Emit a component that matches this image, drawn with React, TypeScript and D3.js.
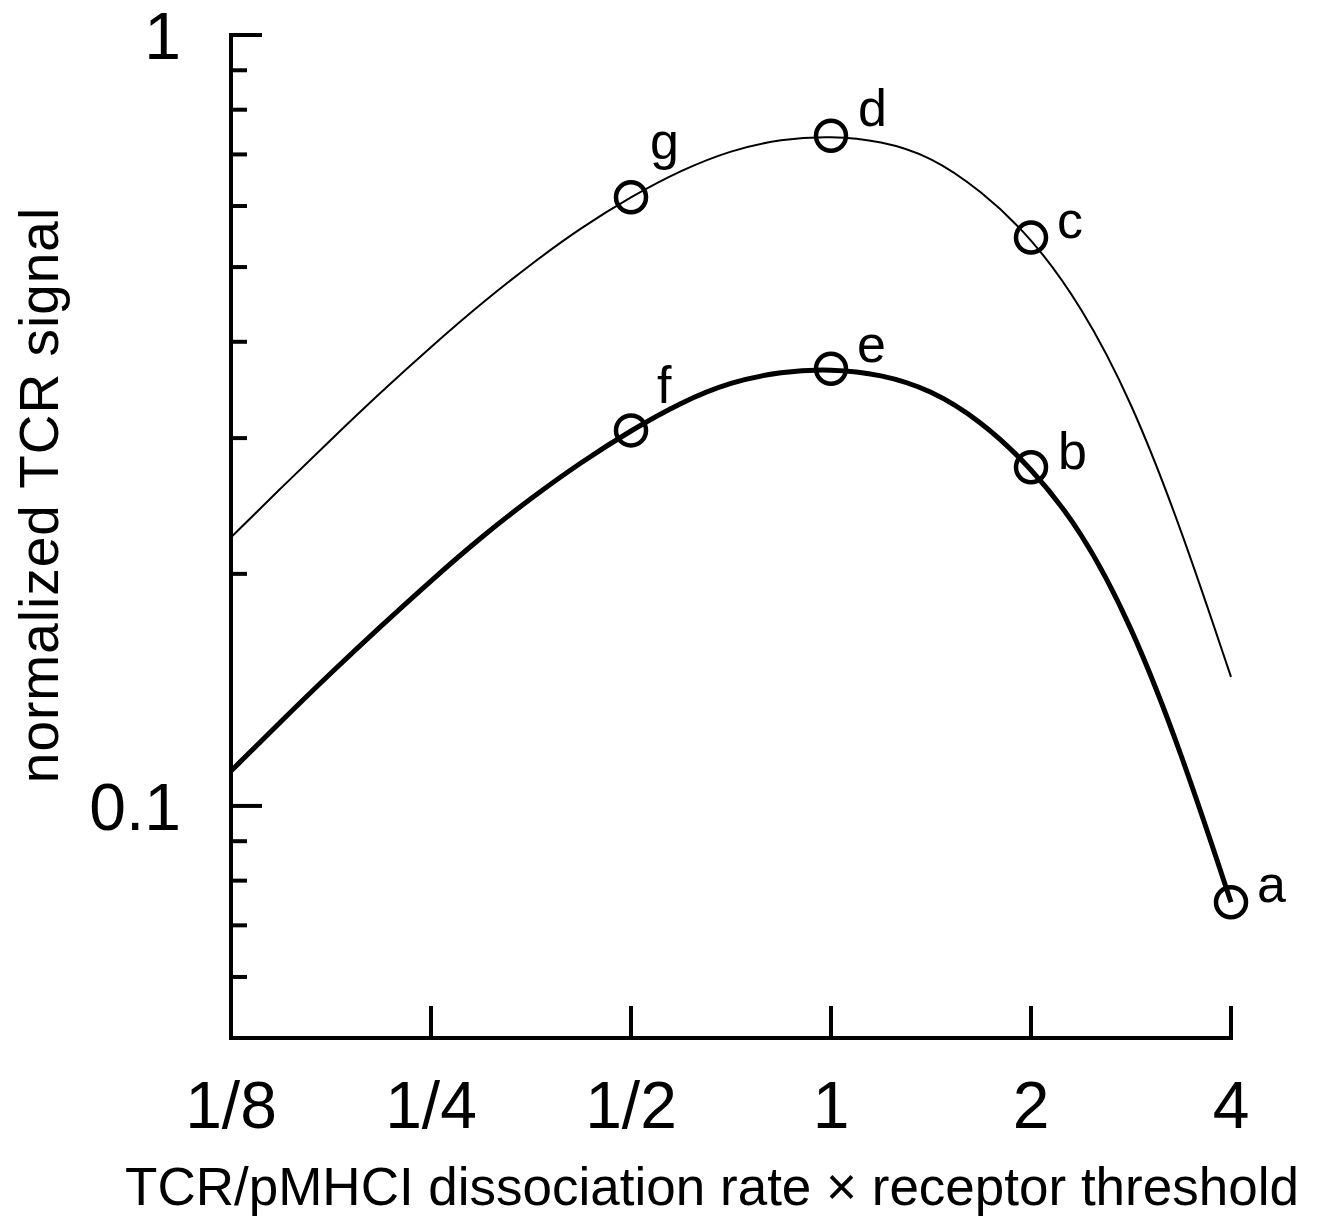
import * as d3 from "d3";
import React, { useEffect, useRef } from "react";

// x: TCR/pMHCI dissociation rate x receptor threshold (log2 axis)
const xTickValues = [0.125, 0.25, 0.5, 1, 2, 4];
const xTickLabels = ["1/8", "1/4", "1/2", "1", "2", "4"];

// y: normalized TCR signal (log10 axis)
const yMajorTicks = [0.1, 1];
const yMajorLabels = ["0.1", "1"];
const yMinorTicks = [0.06, 0.07, 0.08, 0.09, 0.2, 0.3, 0.4, 0.5, 0.6, 0.7, 0.8, 0.9];

// curves
const curveX = [
  0.125, 0.149, 0.177, 0.21, 0.25, 0.297, 0.354, 0.42, 0.5, 0.595, 0.707,
  0.841, 1, 1.19, 1.41, 1.68, 2, 2.38, 2.83, 3.36, 4,
];
const upperSignal = [
  0.223, 0.259, 0.299, 0.344, 0.394, 0.448, 0.505, 0.562, 0.617, 0.668, 0.709,
  0.733, 0.74, 0.729, 0.697, 0.629, 0.547, 0.446, 0.336, 0.23, 0.147,
];
const lowerSignal = [
  0.111, 0.129, 0.149, 0.171, 0.196, 0.223, 0.251, 0.279, 0.307, 0.334, 0.355,
  0.366, 0.369, 0.363, 0.347, 0.316, 0.275, 0.228, 0.172, 0.118, 0.075,
];

// labelled points
const pointLabels = ["g", "d", "c", "f", "e", "b", "a"];
const pointX = [0.5, 1, 2, 0.5, 1, 2, 4];
const pointY = [0.616, 0.74, 0.546, 0.307, 0.369, 0.275, 0.075];
// label offset from the circle centre (px)
const labelDx = [19, 27, 26, 26, 26, 27, 26];
const labelDy = [-38, -10, 0, -27, -7, 2, 0];

const FONT = "'Liberation Sans', Arial, Helvetica, sans-serif";

const App = () => {
  const ref = useRef(null);

  useEffect(() => {
    const width = 1319;
    const height = 1219;

    const x = d3.scaleLog().base(2).domain([0.125, 4]).range([231, 1231]);
    const y = d3.scaleLog().domain([0.05, 1]).range([1038, 35]);

    const svg = d3.select(ref.current).attr("width", width).attr("height", height);
    svg.selectAll("*").remove();

    svg.append("rect").attr("width", width).attr("height", height).attr("fill", "#fff");

    // axes
    const axis = svg.append("g").attr("stroke", "#000").attr("stroke-width", 4).attr("fill", "none");
    axis
      .append("path")
      .attr("d", `M${x(0.125)},${y(1) - 2}V${y(0.05)}H${x(4) + 2}`)
      .attr("stroke-linejoin", "miter");

    axis
      .selectAll("line.ymajor")
      .data(yMajorTicks)
      .join("line")
      .attr("class", "ymajor")
      .attr("x1", x(0.125))
      .attr("x2", x(0.125) + 31)
      .attr("y1", (d) => y(d))
      .attr("y2", (d) => y(d));

    axis
      .selectAll("line.yminor")
      .data(yMinorTicks)
      .join("line")
      .attr("class", "yminor")
      .attr("x1", x(0.125))
      .attr("x2", x(0.125) + 16)
      .attr("y1", (d) => y(d))
      .attr("y2", (d) => y(d));

    axis
      .selectAll("line.xtick")
      .data(xTickValues)
      .join("line")
      .attr("class", "xtick")
      .attr("x1", (d) => x(d))
      .attr("x2", (d) => x(d))
      .attr("y1", y(0.05))
      .attr("y2", y(0.05) - 32);

    // tick labels
    svg
      .append("g")
      .attr("font-family", FONT)
      .attr("font-size", 66)
      .attr("text-anchor", "middle")
      .selectAll("text")
      .data(xTickValues)
      .join("text")
      .attr("x", (d) => x(d))
      .attr("y", 1128)
      .text((_, i) => xTickLabels[i]);

    svg
      .append("g")
      .attr("font-family", FONT)
      .attr("font-size", 66)
      .attr("text-anchor", "end")
      .selectAll("text")
      .data(yMajorTicks)
      .join("text")
      .attr("x", 181)
      .attr("y", (d) => y(d))
      .attr("dy", "0.36em")
      .text((_, i) => yMajorLabels[i]);

    // axis titles
    svg
      .append("text")
      .attr("font-family", FONT)
      .attr("font-size", 53)
      .attr("text-anchor", "middle")
      .attr("x", 712)
      .attr("y", 1205)
      .text("TCR/pMHCI dissociation rate \u00d7 receptor threshold");

    svg
      .append("text")
      .attr("font-family", FONT)
      .attr("font-size", 55)
      .attr("letter-spacing", 1)
      .attr("text-anchor", "middle")
      .attr("transform", "translate(58,495) rotate(-90)")
      .text("normalized TCR signal");

    // curves
    const line = d3
      .line()
      .x((d) => x(d[0]))
      .y((d) => y(d[1]))
      .curve(d3.curveBasis);

    svg
      .append("path")
      .datum(curveX.map((v, i) => [v, upperSignal[i]]))
      .attr("fill", "none")
      .attr("stroke", "#000")
      .attr("stroke-width", 2)
      .attr("d", line);

    svg
      .append("path")
      .datum(curveX.map((v, i) => [v, lowerSignal[i]]))
      .attr("fill", "none")
      .attr("stroke", "#000")
      .attr("stroke-width", 5)
      .attr("d", line);

    // points
    const pts = svg.append("g");
    pts
      .selectAll("circle")
      .data(pointX)
      .join("circle")
      .attr("cx", (d) => x(d))
      .attr("cy", (_, i) => y(pointY[i]))
      .attr("r", 15)
      .attr("fill", "none")
      .attr("stroke", "#000")
      .attr("stroke-width", 4.5);

    pts
      .selectAll("text")
      .data(pointX)
      .join("text")
      .attr("font-family", FONT)
      .attr("font-size", 52)
      .attr("x", (d, i) => x(d) + labelDx[i])
      .attr("y", (_, i) => y(pointY[i]) + labelDy[i])
      .text((_, i) => pointLabels[i]);
  }, []);

  return <svg ref={ref} style={{ position: "absolute", left: 0, top: 0 }} />;
};

export default App;
